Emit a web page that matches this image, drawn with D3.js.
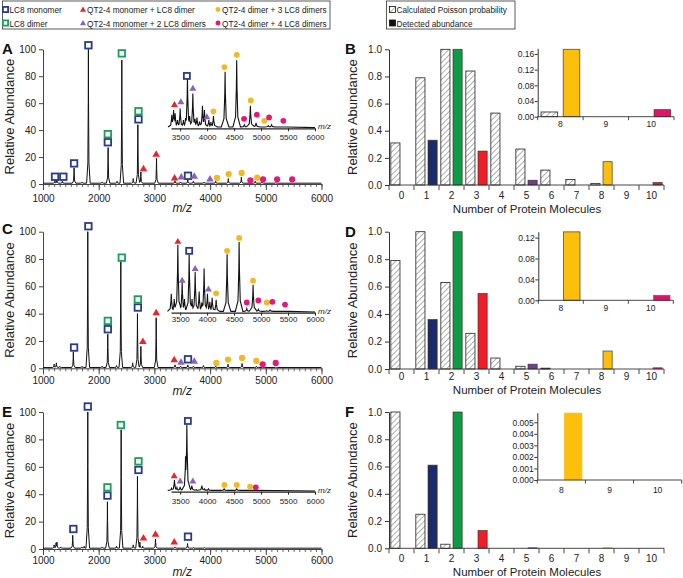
<!DOCTYPE html>
<html><head><meta charset="utf-8">
<script src="https://cdn.jsdelivr.net/npm/d3@7"></script>
<style>
body{margin:0;background:#fff}
svg text{font-family:Arial,"Liberation Sans",Helvetica,sans-serif;fill:#222}
</style>
</head><body>
<svg id="c" width="683" height="578"></svg>
<script>
// ---------------- DATA ----------------
const species = ["LC8 monomer","LC8 dimer","QT2-4 monomer + LC8 dimer","QT2-4 monomer + 2 LC8 dimers","QT2-4 dimer + 3 LC8 dimers","QT2-4 dimer + 4 LC8 dimers"];
const poissonLegend = ["Calculated Poisson probability","Detected abundance"];
const mzTicksMain = [1000,2000,3000,4000,5000,6000];
const mzTicksInset = [3500,4000,4500,5000,5500,6000];
const abundanceTicks = [0,20,40,60,80,100];
const molecules = [0,1,2,3,4,5,6,7,8,9,10];
const insetMolecules = [8,9,10];
const barTicks = [0,0.2,0.4,0.6,0.8,1.0];
const detectedSpecies = {1:0,2:1,3:2,5:3,8:4,10:5};

// spectra peaks [m/z, relative abundance]
const peaksA = [[1215,3],[1250,3.5],[1347,2],[1558,12],[1700,1.5],[1815,100],[2060,1.5],[2169,27],[2330,2],[2415,92],[2620,4],[2703,44],[2757,9],[3038,19],[3370,2.5],[3470,1.5],[3600,3],[3700,2],[3890,1.5],[4100,2],[4327,4],[4561,5],[4810,2],[4930,1.5],[5180,1]];
const insetPeaksA = [[3345,20],[3378,27],[3407,22],[3450,12],[3500,29],[3561,12],[3600,15],[3635,74],[3676,18],[3735,51],[3775,14],[3811,16],[3860,10],[3913,33],[3950,27],[4031,12],[4070,9],[4117,18],[4333,83],[4548,100],[4690,5],[4802,33],[4907,8],[5133,4],[5196,5],[5411,2]];
const peaksC = [[1200,3],[1240,4],[1300,1.5],[1545,12],[1700,1.5],[1804,100],[2060,1.5],[2163,25],[2320,2],[2397,78],[2610,4],[2696,40],[2757,16],[3032,37],[3370,2.5],[3470,1.5],[3600,2.5],[3700,1.5],[3880,2],[4100,1.5],[4322,3],[4574,3.5],[4831,1.5],[4944,1],[5180,0.8]];
const insetPeaksC = [[3335,28],[3390,20],[3457,100],[3537,46],[3580,20],[3667,86],[3720,20],[3778,60],[3852,31],[3900,15],[3944,65],[4006,28],[4050,16],[4093,22],[4167,19],[4370,86],[4593,104],[4735,6],[4852,41],[4950,5],[5105,3],[5167,4],[5444,2]];
const peaksE = [[1200,3],[1235,4.5],[1250,5],[1320,1.5],[1534,10],[1700,1.5],[1740,2],[1804,100],[2060,1.5],[2157,34.5],[2320,2],[2403,87],[2620,3],[2696,53],[2740,5],[2790,2],[3020,7.3],[3370,1.5],[3595,4],[3700,1],[3900,1]];
const insetPeaksE = [[3340,5],[3394,17],[3440,6],[3500,7],[3560,6],[3600,52],[3624,98],[3660,8],[3716,9],[3800,3],[3902,9],[3950,4],[4024,4],[4315,4],[4550,4],[4800,2]];

// markers [species index, m/z, abundance]
const markersA = [[0,1216,5.4],[0,1365,5.4],[0,1558,15.3],[0,1815,103],[0,2164,31],[0,2714,48],[0,3603,6.1],[1,2164,37],[1,2415,97],[1,2714,54],[2,2804,11.6],[2,3032,22.3],[2,3362,4.7],[3,3482,5.4],[3,3716,5.9],[3,3998,3.9],[4,4124,4.5],[4,4333,7.4],[4,4566,8.2],[4,4844,4.7],[5,4723,2.7],[5,4951,3.5],[5,5203,3.5],[5,5473,3.5]];
const insetMarkersA = [[2,3394,35],[3,3513,39],[0,3624,77],[3,3735,59],[3,3994,17],[4,4117,25],[4,4320,90],[4,4550,108],[4,4809,41],[5,4685,14],[5,4920,20],[4,5061,11],[5,5148,16],[5,5413,11]];
const markersC = [[0,1558,15.2],[0,1815,104],[0,2164,28.6],[0,2703,44.5],[0,3603,6.6],[1,2164,34.7],[1,2415,81],[1,2703,50.4],[2,2793,19.8],[2,3032,40.9],[2,3356,6.4],[3,3477,4.6],[3,3716,5.4],[4,4112,3.9],[4,4322,6.4],[4,4574,7.6],[4,4831,5.4],[5,4944,2.9],[5,5178,3.9]];
const insetMarkersC = [[2,3457,105],[3,3537,48],[0,3667,91],[3,3778,65],[3,4024,35],[4,4167,28.5],[4,4370,91],[4,4593,110],[4,4852,47],[5,4735,15],[5,4950,18],[4,5105,15],[5,5209,16],[5,5444,12]];
const markersE = [[0,1545,14.6],[0,1804,104],[0,2157,39],[0,2714,57.7],[0,3603,9],[1,2157,45],[1,2397,90.5],[1,2714,64],[2,2804,8.2],[2,3020,11],[2,3356,5.3]];
const insetMarkersE = [[2,3389,23.5],[3,3500,15.7],[0,3643,104],[3,3735,16],[4,4320,10],[4,4550,10],[4,4796,7.4],[5,4902,6.5]];

// bar values
const calcB = [0.31,0.79,1.0,0.84,0.53,0.265,0.11,0.04,0.012,0,0];
const detB  = [0,0.33,1.0,0.25,0,0.035,0,0,0.172,0,0.018];
const calcD = [0.79,1.0,0.63,0.26,0.08,0.02,0.006,0,0,0,0];
const detD  = [0,0.36,1.0,0.55,0,0.035,0,0,0.131,0,0.0095];
const calcF = [1.0,0.25,0.03,0,0,0,0,0,0,0,0];
const detF  = [0,0.61,1.0,0.13,0,0.004,0,0,0.0058,0,0];
const insetTicksB = [0,0.04,0.08,0.12,0.16];
const insetTicksD = [0,0.04,0.08,0.12];
const insetTicksF = [0,0.001,0.002,0.003,0.004,0.005];

// ---------------- STYLE ----------------
const markColor = ["#2b3b8c","#1a9f5a","#e8242c","#8a62b6","#f3b823","#e3197a"];
const barColor  = ["#1b2a6b","#0e9b48","#ee1d2a","#6b3f9b","#fcbf0b","#e0136b"];
const svg = d3.select("#c");
const defs = svg.append("defs");
const pat = defs.append("pattern").attr("id","hatch").attr("patternUnits","userSpaceOnUse")
  .attr("width",4).attr("height",4).attr("patternTransform","rotate(45)");
pat.append("rect").attr("width",4).attr("height",4).attr("fill","#fff");
pat.append("line").attr("x1",0).attr("y1",0).attr("x2",0).attr("y2",4).attr("stroke","#333").attr("stroke-width",0.8);

function drawMarker(g, t, x, y, s){
  s = s || 6.5;
  if (t < 2){
    g.append("rect").attr("x",x-s/2).attr("y",y-s/2).attr("width",s).attr("height",s)
      .attr("fill","#fff").attr("stroke",markColor[t]).attr("stroke-width",1.8);
  } else if (t < 4){
    const h = s*0.95;
    g.append("path").attr("d",`M${x},${y-h*0.6}L${x+s*0.58},${y+h*0.45}L${x-s*0.58},${y+h*0.45}Z`).attr("fill",markColor[t]);
  } else {
    g.append("circle").attr("cx",x).attr("cy",y).attr("r",s*0.48).attr("fill",markColor[t]);
  }
}

// ---------------- LEGENDS ----------------
function condText(lx, ly, s){
  svg.append("text").attr("transform",`translate(${lx},${ly}) scale(0.86,1)`).attr("font-size",9.6).text(s);
}
svg.append("rect").attr("x",2.5).attr("y",1).attr("width",327.5).attr("height",28).attr("fill","#fff").attr("stroke","#333").attr("stroke-width",0.8);
const legPos = [[5.5,9.5],[5.5,23],[83,9.5],[83,23],[218,9.5],[218,23]];
species.forEach((s,i)=>{
  const [lx,ly] = legPos[i];
  drawMarker(svg, i, lx, ly, 5.2);
  condText(lx+4, ly+3.5, s);
});
svg.append("rect").attr("x",386.5).attr("y",1).attr("width",128.5).attr("height",28).attr("fill","#fff").attr("stroke","#333").attr("stroke-width",0.8);
poissonLegend.forEach((s,i)=>{
  const ly = i===0?9.5:23;
  svg.append("rect").attr("x",389.5).attr("y",ly-3).attr("width",6).attr("height",6)
    .attr("fill", i===0?"url(#hatch)":"#111").attr("stroke","#111").attr("stroke-width",0.8);
  condText(396.5, ly+3.5, s);
});

// ---------------- SPECTRA ----------------
function trace(peaks, base, hw){
  const spike = (p, x) => {
    const d = Math.abs(x - p[0]);
    if (d >= hw) return base;
    const h = p[1]-base;
    const r = d/hw;
    if (r < 0.08) return base + h*(1 - r/0.08*0.4);
    if (r < 0.3) return base + h*(0.6 - (r-0.08)/0.22*0.45);
    return base + h*0.15*(1-(r-0.3)/0.7);
  };
  let xs = [];
  peaks.forEach(p=>{[-1,-0.3,-0.08,0,0.08,0.3,1].forEach(k=>xs.push(p[0]+k*hw));});
  xs.sort((a,b)=>a-b);
  return xs.map(x=>[x, Math.max(base, d3.max(peaks, p=>spike(p,x)))]);
}

function spectrumPanel(cfg){
  const g = svg.append("g");
  const x = d3.scaleLinear().domain([1000,6000]).range([43,321.5]);
  const y = d3.scaleLinear().domain([0,100]).range([cfg.y0, cfg.y100]);
  const xa = g.append("g").attr("transform",`translate(0,${cfg.y0})`)
    .call(d3.axisBottom(x).tickValues(d3.range(1000,6001,100)).tickSize(3).tickFormat(""));
  xa.selectAll("path").remove();
  xa.selectAll("line").attr("stroke","#444").attr("stroke-width",0.8);
  const xb = g.append("g").attr("transform",`translate(0,${cfg.y0})`)
    .call(d3.axisBottom(x).tickValues(mzTicksMain).tickSize(6).tickFormat(d3.format("d")).tickSizeOuter(0));
  xb.select("path").attr("stroke","#444");
  xb.selectAll("line").attr("stroke","#444");
  xb.selectAll("text").attr("y",cfg.lab).attr("dy","0.35em").attr("font-size",10);
  const ya = g.append("g").attr("transform",`translate(43,0)`)
    .call(d3.axisLeft(y).tickValues(abundanceTicks).tickSize(4).tickSizeOuter(0));
  ya.select("path").attr("stroke","#444");
  ya.selectAll("line").attr("stroke","#444");
  ya.selectAll("text").attr("font-size",10);
  const line = d3.line().x(d=>x(d[0])).y(d=>y(d[1]));
  g.append("path").attr("d", line([[1000,0.6]].concat(trace(cfg.peaks,0.6,32)).concat([[6000,0.6]])))
    .attr("fill","none").attr("stroke","#111").attr("stroke-width",1);
  cfg.markers.forEach(m=>drawMarker(g, m[0], x(m[1]), y(m[2])));
  g.append("text").attr("x",2).attr("y",cfg.letterY).attr("font-size",15).attr("font-weight","bold").style("fill","#111").text(cfg.letter);
  g.append("text").attr("transform",`translate(14,${(cfg.y0+cfg.y100)/2}) rotate(-90)`).attr("text-anchor","middle").attr("font-size",13).text("Relative Abundance");
  g.append("text").attr("x",x(3500)).attr("y",cfg.title).attr("text-anchor","middle").attr("font-size",12).attr("font-style","italic").text("m/z");
  // inset
  const xi = d3.scaleLinear().domain([3330,6000]).range([171,315]);
  const yi = d3.scaleLinear().domain([0,100]).range([cfg.iy0, cfg.iy0-68]);
  const ia = g.append("g").attr("transform",`translate(0,${cfg.iy0})`)
    .call(d3.axisBottom(xi).tickValues(mzTicksInset).tickSize(3).tickFormat(d3.format("d")).tickSizeOuter(0));
  ia.select("path").attr("stroke","#222").attr("stroke-width",1.2);
  ia.selectAll("line").attr("stroke","#222");
  ia.selectAll("text").attr("y",cfg.ilab).attr("dy","0.35em").attr("font-size",8);
  g.append("path").attr("d", line.x(d=>xi(d[0])).y(d=>yi(d[1]))(trace(cfg.ipeaks,2,70).concat([[6000,1]])))
    .attr("fill","none").attr("stroke","#111").attr("stroke-width",1.1);
  cfg.imarkers.forEach(m=>drawMarker(g, m[0], xi(m[1]), yi(m[2]), 6));
  g.append("text").attr("x",318).attr("y",cfg.iy0+1).attr("font-size",8).attr("font-style","italic").text("m/z");
}

spectrumPanel({letter:"A",letterY:54,y0:184,y100:49.3,lab:14,title:212,peaks:peaksA,markers:markersA,iy0:128.3,ilab:9,ipeaks:insetPeaksA,imarkers:insetMarkersA});
spectrumPanel({letter:"C",letterY:234,y0:368.3,y100:231.7,lab:12.5,title:395,peaks:peaksC,markers:markersC,iy0:312.7,ilab:7,ipeaks:insetPeaksC,imarkers:insetMarkersC});
spectrumPanel({letter:"E",letterY:417,y0:549,y100:412,lab:11,title:576,peaks:peaksE,markers:markersE,iy0:491.7,ilab:10,ipeaks:insetPeaksE,imarkers:insetMarkersE});

// ---------------- BAR PANELS ----------------
function bars(g, x, y, cats, calc, det){
  const sub = d3.scaleBand().domain(["calc","det"]).range([0,x.bandwidth()]).paddingInner(0.25).paddingOuter(0.15);
  cats.forEach((c)=>{
    if (calc[c] > 0){
      g.append("rect").attr("x",x(c)+sub("calc")).attr("width",sub.bandwidth())
        .attr("y",y(calc[c])).attr("height",Math.max(0.6,y(0)-y(calc[c])))
        .attr("fill","url(#hatch)").attr("stroke","#222").attr("stroke-width",0.8);
    }
    if (det[c] > 0){
      const sp = detectedSpecies[c];
      g.append("rect").attr("x",x(c)+sub("det")).attr("width",sub.bandwidth())
        .attr("y",y(det[c])).attr("height",Math.max(0.6,y(0)-y(det[c])))
        .attr("fill",barColor[sp]).attr("stroke", det[c]>0.01? "#3a2a10":barColor[sp]).attr("stroke-opacity",0.8).attr("stroke-width",0.8);
    }
  });
}
function catAxis(g, x, y0, cats, labOff, fs, tick){
  g.append("line").attr("x1",x.range()[0]).attr("x2",x.range()[1]).attr("y1",y0).attr("y2",y0).attr("stroke","#333").attr("stroke-width",0.9);
  const edges = cats.map(c=>x(c)).concat([x.range()[1]]);
  edges.forEach(e=>g.append("line").attr("x1",e).attr("x2",e).attr("y1",y0).attr("y2",y0+tick).attr("stroke","#333").attr("stroke-width",0.9));
  cats.forEach(c=>g.append("text").attr("x",x(c)+x.bandwidth()/2).attr("y",y0+labOff).attr("dy","0.35em").attr("text-anchor","middle").attr("font-size",fs).text(c));
}
function barPanel(cfg){
  const g = svg.append("g");
  const x = d3.scaleBand().domain(molecules).range([389,664]);
  const y = d3.scaleLinear().domain([0,1]).range([cfg.y0,cfg.y1]);
  bars(g, x, y, molecules, cfg.calc, cfg.det);
  const ya = g.append("g").attr("transform","translate(389,0)")
    .call(d3.axisLeft(y).tickValues(barTicks).tickFormat(d3.format(".1f")).tickSize(4).tickSizeOuter(0));
  ya.select("path").attr("stroke","#333");
  ya.selectAll("line").attr("stroke","#333");
  ya.selectAll("text").attr("font-size",10);
  catAxis(g, x, cfg.y0, molecules, cfg.lab, 10, 5);
  g.append("text").attr("x",345).attr("y",cfg.letterY).attr("font-size",15).attr("font-weight","bold").style("fill","#111").text(cfg.letter);
  g.append("text").attr("transform",`translate(357,${(cfg.y0+cfg.y1)/2}) rotate(-90)`).attr("text-anchor","middle").attr("font-size",13).text("Relative Abundance");
  g.append("text").attr("x",527).attr("y",cfg.title).attr("text-anchor","middle").attr("font-size",11.5).text("Number of Protein Molecules");
  const xi = d3.scaleBand().domain(insetMolecules).range([cfg.ix0,cfg.ix1]);
  const yi = d3.scaleLinear().domain([0,cfg.itop]).range([cfg.iy0,cfg.iyTop]);
  bars(g, xi, yi, insetMolecules, cfg.calc, cfg.det);
  const yia = g.append("g").attr("transform",`translate(${cfg.ix0},0)`)
    .call(d3.axisLeft(yi).tickValues(cfg.iticks).tickFormat(d3.format(cfg.ifmt)).tickSize(3).tickSizeOuter(0));
  yia.select("path").attr("stroke","#333");
  yia.selectAll("line").attr("stroke","#333");
  yia.selectAll("text").attr("font-size",8.5).attr("x",-3.5);
  catAxis(g, xi, cfg.iy0, insetMolecules, cfg.ilab, 8.5, 3.5);
}
barPanel({letter:"B",letterY:54,y0:185,y1:49.3,lab:10.5,title:212.5,calc:calcB,det:detB,ix0:537.7,ix1:674,iy0:116.7,iyTop:48.3,itop:0.1745,iticks:insetTicksB,ifmt:".2f",ilab:7});
barPanel({letter:"D",letterY:237,y0:369,y1:231.7,lab:7.5,title:394,calc:calcD,det:detD,ix0:538.3,ix1:673.3,iy0:300.3,iyTop:231.7,itop:0.1313,iticks:insetTicksD,ifmt:".2f",ilab:7.5});
barPanel({letter:"F",letterY:417,y0:548.3,y1:412,lab:10,title:575.5,calc:calcF,det:detF,ix0:537.3,ix1:681.7,iy0:480,iyTop:412.7,itop:0.00583,iticks:insetTicksF,ifmt:".3f",ilab:10});
</script>
</body></html>
